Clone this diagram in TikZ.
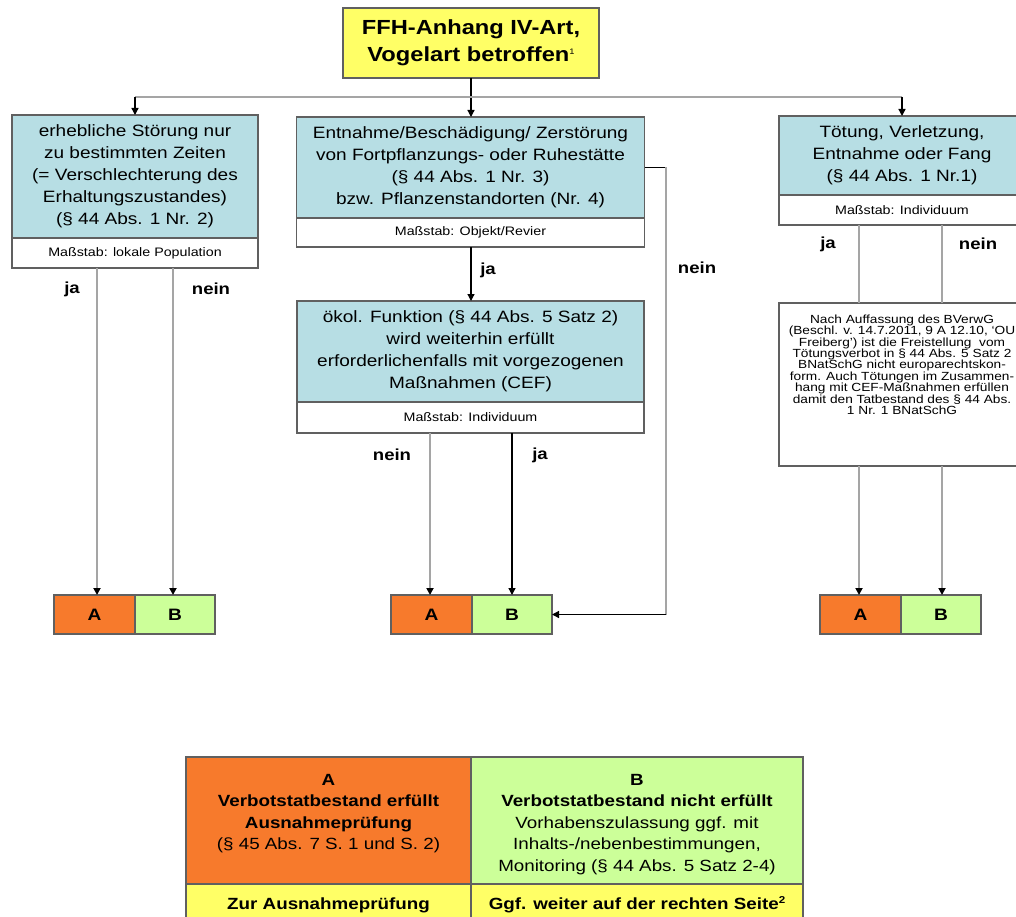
\documentclass[tikz,border=0pt]{standalone}
\usepackage{fontspec}
\setmainfont{Liberation Sans}[FakeStretch=1.16]
\usetikzlibrary{arrows.meta}
\definecolor{boxblue}{RGB}{183,222,228}
\definecolor{titleyellow}{RGB}{255,255,102}
\definecolor{orangeA}{RGB}{247,122,44}
\definecolor{greenB}{RGB}{204,255,153}
\definecolor{bordergray}{RGB}{96,96,96}
\definecolor{linegray}{RGB}{165,165,165}
\begin{document}
\begin{tikzpicture}[x=1pt,y=-1pt,
  every node/.style={inner sep=0pt, outer sep=0pt, text=black},
  fbox/.style={draw=bordergray, line width=1.2pt},
  titlebox/.style={fbox, fill=titleyellow, align=center, minimum width=256pt, minimum height=70pt, font=\fontsize{20.4}{26.7}\selectfont\bfseries},
  bluebox/.style={fbox, fill=boxblue, align=center, font=\fontsize{16.4}{22}\selectfont},
  scalebox/.style={fbox, fill=white, font=\fontsize{12.3}{14}\selectfont},
  abox/.style={fbox, fill=orangeA, minimum width=81pt, minimum height=39pt, font=\fontsize{16.5}{18}\selectfont\bfseries},
  bbox/.style={fbox, fill=greenB, minimum width=80pt, minimum height=39pt, font=\fontsize{16.5}{18}\selectfont\bfseries},
  lbl/.style={font=\fontsize{16}{18}\selectfont\bfseries},
  legtext/.style={anchor=north, align=center, font=\fontsize{16.2}{21.5}\selectfont},
  tip/.style={-{Triangle[width=7pt,length=7pt,color=black]}},
  gline/.style={draw=linegray, line width=2pt},
  bline/.style={draw=black, line width=1.3pt},
]
\useasboundingbox (0,0) rectangle (1016,917);
\clip (0,0) rectangle (1016,917);
\fill[white] (0,0) rectangle (1016,917);

% title
\node[titlebox] (top) at (471,43) {FFH-Anhang IV-Art,\\Vogelart betroffen\raisebox{7pt}{\fontsize{8}{8}\selectfont\mdseries 1}};

% left
\node[bluebox, minimum width=246pt, minimum height=123pt] (Lb) at (135,176.5) {erhebliche Störung nur\\zu bestimmten Zeiten\\(= Verschlechterung des\\Erhaltungszustandes)\\(§ 44 Abs. 1 Nr. 2)};
\node[scalebox, minimum width=246pt, minimum height=30pt] (Lw) at (135,253) {Maßstab: lokale Population};

% middle
\node[bluebox, minimum width=348pt, minimum height=101pt] (Mb) at (470.5,167.5) {Entnahme/Beschädigung/ Zerstörung\\von Fortpflanzungs- oder Ruhestätte\\(§ 44 Abs. 1 Nr. 3)\\bzw. Pflanzenstandorten (Nr. 4)};
\node[scalebox, minimum width=348pt, minimum height=29pt] (Mw) at (470.5,232.5) {Maßstab: Objekt/Revier};

\node[bluebox, minimum width=347pt, minimum height=101pt] (Fb) at (470.5,351.5) {ökol. Funktion (§ 44 Abs. 5 Satz 2)\\wird weiterhin erfüllt\\erforderlichenfalls mit vorgezogenen\\Maßnahmen (CEF)};
\node[scalebox, minimum width=347pt, minimum height=31pt] (Fw) at (470.5,417.5) {Maßstab: Individuum};

% right
\node[bluebox, minimum width=246pt, minimum height=79pt] (Rb) at (902,155.5) {Tötung, Verletzung,\\Entnahme oder Fang\\(§ 44 Abs. 1 Nr.1)};
\node[scalebox, minimum width=246pt, minimum height=30pt] (Rw) at (902,210) {Maßstab: Individuum};

\node[fbox, fill=white, minimum width=246pt, minimum height=163pt] (N) at (902,384.5) {};
\node[anchor=north, align=center, font=\fontsize{11.8}{11.35}\selectfont] (Nt) at (902,315) {Nach Auffassung des BVerwG\\(Beschl. v. 14.7.2011, 9 A 12.10, `OU\\Freiberg') ist die Freistellung\ \ vom\\Tötungsverbot in § 44 Abs. 5 Satz 2\\BNatSchG nicht europarechtskon-\\form. Auch Tötungen im Zusammen-\\hang mit CEF-Maßnahmen erfüllen\\damit den Tatbestand des § 44 Abs.\\1 Nr. 1 BNatSchG};

% A/B boxes
\node[abox] (LA) at (94.5,614.5) {A};
\node[bbox] (LB) at (175,614.5) {B};
\node[abox] (MA) at (431.5,614.5) {A};
\node[bbox] (MB) at (512,614.5) {B};
\node[abox] (RA) at (860.5,614.5) {A};
\node[bbox] (RB) at (941,614.5) {B};

% legend
\node[fbox, fill=orangeA, minimum width=285pt, minimum height=127pt] (GA) at (328.5,820.5) {};
\node[fbox, fill=greenB, minimum width=332pt, minimum height=127pt] (GB) at (637,820.5) {};
\node[legtext] (GAt) at (328.5,774) {\textbf{A}\\\textbf{Verbotstatbestand erfüllt}\\\textbf{Ausnahmeprüfung}\\(§ 45 Abs. 7 S. 1 und S. 2)};
\node[legtext] (GBt) at (637,774) {\textbf{B}\\\textbf{Verbotstatbestand nicht erfüllt}\\Vorhabenszulassung ggf. mit\\Inhalts-/nebenbestimmungen,\\Monitoring (§ 44 Abs. 5 Satz 2-4)};
\node[fbox, fill=titleyellow, minimum width=285pt, minimum height=42pt, font=\fontsize{16.2}{18}\selectfont\bfseries] (GAy) at (328.5,905) {Zur Ausnahmeprüfung};
\node[fbox, fill=titleyellow, minimum width=332pt, minimum height=42pt, font=\fontsize{16.2}{18}\selectfont\bfseries] (GBy) at (637,905) {Ggf. weiter auf der rechten Seite\raisebox{6pt}{\fontsize{10}{10}\selectfont 2}};

% labels
\node[lbl] (l1) at (72,289) {ja};
\node[lbl] (l2) at (211,289) {nein};
\node[lbl] (l3) at (488,270) {ja};
\node[lbl] (l4) at (697,268) {nein};
\node[lbl] (l5) at (392,455) {nein};
\node[lbl] (l6) at (540,455) {ja};
\node[lbl] (l7) at (828,244) {ja};
\node[lbl] (l8) at (978,244) {nein};

% connectors
\coordinate (hb) at (471,97);
\draw[bline,tip] (top.south) -- (top.south |- Mb.north);
\draw[gline] (hb -| Lb.north) -- (hb -| Rb.north);
\draw[bline,tip] (hb -| Lb.north) -- (Lb.north);
\draw[bline,tip] (hb -| Rb.north) -- (Rb.north);

\coordinate (Lja) at (97,0);
\coordinate (Lnein) at (173,0);
\draw[gline,tip] (Lw.south -| Lja) -- (LA.north -| Lja);
\draw[gline,tip] (Lw.south -| Lnein) -- (LB.north -| Lnein);

\draw[bline,tip] (Mw.south -| top.south) -- (Fb.north -| top.south);
\coordinate (nr) at (666,0);
\draw[bline] (Mb.east) -- (Mb.east -| nr);
\draw[gline] (Mb.east -| nr) -- (MB.east -| nr);
\draw[bline,tip] (MB.east -| nr) -- (MB.east);

\coordinate (Fnein) at (430,0);
\coordinate (Fja) at (512,0);
\draw[gline,tip] (Fw.south -| Fnein) -- (MA.north -| Fnein);
\draw[bline,tip] (Fw.south -| Fja) -- (MB.north -| Fja);

\coordinate (Rja) at (859,0);
\coordinate (Rnein) at (942,0);
\draw[gline] (Rw.south -| Rja) -- (N.north -| Rja);
\draw[gline] (Rw.south -| Rnein) -- (N.north -| Rnein);
\draw[gline,tip] (N.south -| Rja) -- (RA.north -| Rja);
\draw[gline,tip] (N.south -| Rnein) -- (RB.north -| Rnein);
\end{tikzpicture}
\end{document}
